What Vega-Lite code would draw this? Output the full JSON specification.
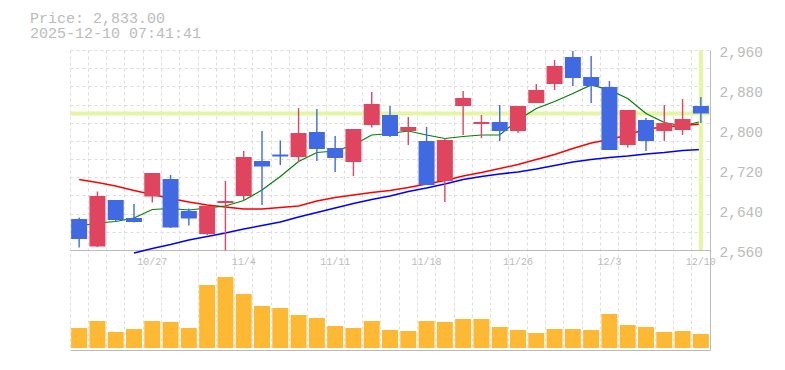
{
  "$schema": "https://vega.github.io/schema/vega-lite/v6.json",
  "width": 640,
  "height": 300,
  "autosize": {"type": "none"},
  "padding": {"left": 70, "top": 50, "right": 75, "bottom": 20},
  "background": "white",
  "config": {"view": {"stroke": null}, "font": "Liberation Mono"},
  "title": {"text": ["Price: 2,833.00", "2025-12-10 07:41:41"], "anchor": "start", "frame": "group", "dx": -40, "offset": 3, "font": "Liberation Mono", "fontSize": 15, "fontWeight": "normal", "color": "#bbbbbb", "lineHeight": 15},
  "datasets": {
    "ohlc": [
      {"date": "10/21", "o": 2622, "h": 2625, "l": 2565, "c": 2582, "v": 200000, "m5": 2608, "m25": 2701, "m75": null},
      {"date": "10/22", "o": 2567, "h": 2677, "l": 2566, "c": 2668, "v": 270000, "m5": 2614, "m25": 2695, "m75": null},
      {"date": "10/23", "o": 2660, "h": 2660, "l": 2617, "c": 2620, "v": 160000, "m5": 2617, "m25": 2688, "m75": null},
      {"date": "10/24", "o": 2624, "h": 2652, "l": 2615, "c": 2616, "v": 190000, "m5": 2624, "m25": 2679, "m75": 2554},
      {"date": "10/27", "o": 2667, "h": 2714, "l": 2655, "c": 2714, "v": 270000, "m5": 2641, "m25": 2671, "m75": 2563},
      {"date": "10/28", "o": 2702, "h": 2710, "l": 2604, "c": 2605, "v": 260000, "m5": 2643, "m25": 2663, "m75": 2571},
      {"date": "10/29", "o": 2638, "h": 2643, "l": 2609, "c": 2623, "v": 200000, "m5": 2640, "m25": 2656, "m75": 2580},
      {"date": "10/30", "o": 2592, "h": 2648, "l": 2590, "c": 2648, "v": 630000, "m5": 2644, "m25": 2650, "m75": 2587},
      {"date": "10/31", "o": 2654, "h": 2698, "l": 2559, "c": 2658, "v": 710000, "m5": 2648, "m25": 2646, "m75": 2594},
      {"date": "11/4", "o": 2668, "h": 2758, "l": 2659, "c": 2746, "v": 540000, "m5": 2659, "m25": 2642, "m75": 2602},
      {"date": "11/5", "o": 2738, "h": 2798, "l": 2650, "c": 2727, "v": 420000, "m5": 2680, "m25": 2642, "m75": 2609},
      {"date": "11/6", "o": 2751, "h": 2779, "l": 2730, "c": 2747, "v": 400000, "m5": 2707, "m25": 2645, "m75": 2616},
      {"date": "11/7", "o": 2746, "h": 2844, "l": 2736, "c": 2794, "v": 330000, "m5": 2737, "m25": 2648, "m75": 2626},
      {"date": "11/10", "o": 2796, "h": 2842, "l": 2738, "c": 2762, "v": 300000, "m5": 2755, "m25": 2658, "m75": 2635},
      {"date": "11/11", "o": 2764, "h": 2788, "l": 2716, "c": 2744, "v": 220000, "m5": 2758, "m25": 2665, "m75": 2644},
      {"date": "11/12", "o": 2736, "h": 2802, "l": 2708, "c": 2802, "v": 200000, "m5": 2770, "m25": 2670, "m75": 2653},
      {"date": "11/13", "o": 2810, "h": 2876, "l": 2805, "c": 2852, "v": 270000, "m5": 2790, "m25": 2675, "m75": 2661},
      {"date": "11/14", "o": 2830, "h": 2848, "l": 2786, "c": 2788, "v": 180000, "m5": 2793, "m25": 2679, "m75": 2668},
      {"date": "11/17", "o": 2798, "h": 2826, "l": 2770, "c": 2806, "v": 170000, "m5": 2798, "m25": 2685, "m75": 2677},
      {"date": "11/18", "o": 2778, "h": 2806, "l": 2690, "c": 2690, "v": 270000, "m5": 2790, "m25": 2692, "m75": 2684},
      {"date": "11/19", "o": 2698, "h": 2784, "l": 2656, "c": 2780, "v": 260000, "m5": 2783, "m25": 2699, "m75": 2692},
      {"date": "11/20", "o": 2848, "h": 2878, "l": 2790, "c": 2864, "v": 290000, "m5": 2787, "m25": 2708, "m75": 2701},
      {"date": "11/21", "o": 2812, "h": 2830, "l": 2784, "c": 2816, "v": 290000, "m5": 2790, "m25": 2715, "m75": 2707},
      {"date": "11/25", "o": 2816, "h": 2850, "l": 2778, "c": 2798, "v": 210000, "m5": 2790, "m25": 2723, "m75": 2712},
      {"date": "11/26", "o": 2798, "h": 2848, "l": 2794, "c": 2848, "v": 180000, "m5": 2820, "m25": 2731, "m75": 2716},
      {"date": "11/27", "o": 2854, "h": 2892, "l": 2854, "c": 2880, "v": 150000, "m5": 2843, "m25": 2741, "m75": 2722},
      {"date": "11/28", "o": 2892, "h": 2940, "l": 2880, "c": 2928, "v": 190000, "m5": 2857, "m25": 2751, "m75": 2729},
      {"date": "12/1", "o": 2946, "h": 2958, "l": 2888, "c": 2904, "v": 190000, "m5": 2873, "m25": 2763, "m75": 2736},
      {"date": "12/2", "o": 2906, "h": 2948, "l": 2854, "c": 2888, "v": 180000, "m5": 2890, "m25": 2774, "m75": 2741},
      {"date": "12/3", "o": 2886, "h": 2898, "l": 2760, "c": 2760, "v": 340000, "m5": 2880, "m25": 2781, "m75": 2745},
      {"date": "12/4", "o": 2770, "h": 2840, "l": 2765, "c": 2840, "v": 230000, "m5": 2863, "m25": 2790, "m75": 2748},
      {"date": "12/5", "o": 2820, "h": 2824, "l": 2758, "c": 2778, "v": 210000, "m5": 2833, "m25": 2802, "m75": 2752},
      {"date": "12/8", "o": 2798, "h": 2850, "l": 2778, "c": 2814, "v": 160000, "m5": 2815, "m25": 2806, "m75": 2755},
      {"date": "12/9", "o": 2800, "h": 2862, "l": 2790, "c": 2822, "v": 170000, "m5": 2808, "m25": 2809, "m75": 2759},
      {"date": "12/10", "o": 2848, "h": 2866, "l": 2814, "c": 2833, "v": 140000, "m5": 2817, "m25": 2812, "m75": 2761}
    ],
    "last": [{"p": 2833}]
  },
  "data": {"name": "ohlc"},
  "layer": [
    {
      "layer": [
        {
          "data": {"name": "last"},
          "mark": {"type": "rule", "color": "#e4f5a4", "strokeWidth": 4},
          "encoding": {
            "y": {"field": "p", "type": "quantitative", "scale": {"domain": [2360, 2960], "nice": false, "zero": false},
              "axis": {"orient": "left", "values": [2596.36, 2632.73, 2669.09, 2705.45, 2741.82, 2778.18, 2814.55, 2850.91, 2887.27, 2923.64, 2960], "grid": true, "gridDash": [3, 3], "gridColor": "#dddddd", "gridWidth": 1, "labels": false, "ticks": false, "domain": false, "title": null}}
          }
        },
        {
          "mark": {"type": "line", "color": "#0000ff", "strokeWidth": 1.5, "clip": false},
          "encoding": {
            "x": {"field": "date", "type": "ordinal", "sort": null, "scale": {"type": "band", "paddingInner": 0, "paddingOuter": 0}},
            "y": {"field": "m75", "type": "quantitative", "scale": {"domain": [2360, 2960], "nice": false, "zero": false}, "axis": null}
          }
        },
        {
          "mark": {"type": "line", "color": "#ff0000", "strokeWidth": 1.5},
          "encoding": {
            "x": {"field": "date", "type": "ordinal", "sort": null, "scale": {"type": "band", "paddingInner": 0, "paddingOuter": 0}},
            "y": {"field": "m25", "type": "quantitative", "scale": {"domain": [2360, 2960], "nice": false, "zero": false}, "axis": null}
          }
        },
        {
          "mark": {"type": "line", "color": "#008000", "strokeWidth": 1.2},
          "encoding": {
            "x": {"field": "date", "type": "ordinal", "sort": null, "scale": {"type": "band", "paddingInner": 0, "paddingOuter": 0}},
            "y": {"field": "m5", "type": "quantitative", "scale": {"domain": [2360, 2960], "nice": false, "zero": false}, "axis": null}
          }
        },
        {
          "transform": [{"filter": "datum.date == '12/10'"}],
          "mark": {"type": "rule", "color": "#e4f5a4", "strokeWidth": 4},
          "encoding": {
            "x": {"field": "date", "type": "ordinal", "sort": null, "scale": {"type": "band", "paddingInner": 0, "paddingOuter": 0}},
            "y": {"datum": 2960, "type": "quantitative", "scale": {"domain": [2360, 2960], "nice": false, "zero": false}, "axis": null},
            "y2": {"datum": 2560}
          }
        },
        {
          "mark": {"type": "rule", "strokeWidth": 1.4},
          "encoding": {
            "x": {"field": "date", "type": "ordinal", "sort": null, "scale": {"type": "band", "paddingInner": 0, "paddingOuter": 0}},
            "y": {"field": "l", "type": "quantitative", "scale": {"domain": [2360, 2960], "nice": false, "zero": false}, "axis": null},
            "y2": {"field": "h"},
            "color": {"condition": {"test": "datum.c >= datum.o", "value": "#e04560"}, "value": "#4169e1"}
          }
        },
        {
          "mark": {"type": "bar", "width": {"band": 0.875}},
          "encoding": {
            "x": {"field": "date", "type": "ordinal", "sort": null, "scale": {"type": "band", "paddingInner": 0, "paddingOuter": 0},
              "axis": {"orient": "bottom", "bandPosition": 0, "grid": true, "gridDash": [3, 3], "gridColor": "#dddddd", "gridWidth": 1, "labels": false, "ticks": false, "domain": true, "domainColor": "#bbbbbb", "domainWidth": 1, "title": null}},
            "y": {"field": "o", "type": "quantitative", "scale": {"domain": [2360, 2960], "nice": false, "zero": false},
              "axis": {"orient": "right", "values": [2560, 2640, 2720, 2800, 2880, 2960], "format": ",d", "grid": false, "ticks": false, "tickSize": 0, "domain": true, "domainColor": "#bbbbbb", "domainWidth": 1, "labelPadding": 9, "labelFont": "Liberation Mono", "labelFontSize": 14.5, "labelColor": "#bbbbbb", "labelOffset": 2, "labelFlush": false, "labelBound": false, "labelOverlap": false, "title": null}},
            "y2": {"field": "c"},
            "color": {"condition": {"test": "datum.c >= datum.o", "value": "#e04560"}, "value": "#4169e1"}
          }
        }
      ],
      "resolve": {"axis": {"y": "independent"}}
    },
    {
      "mark": {"type": "bar", "color": "#fdb933", "width": {"band": 0.875}},
      "encoding": {
        "x": {"field": "date", "type": "ordinal", "sort": null, "scale": {"type": "band", "paddingInner": 0, "paddingOuter": 0},
          "axis": {"orient": "bottom", "offset": -100, "values": ["10/27", "11/4", "11/11", "11/18", "11/26", "12/3", "12/10"], "grid": false, "ticks": false, "tickSize": 0, "labelPadding": 6, "labelFont": "Liberation Mono", "labelFontSize": 10, "labelColor": "#bbbbbb", "labelAngle": 0, "labelFlush": false, "labelOverlap": false, "labelBound": false, "domain": true, "domainColor": "#bbbbbb", "domainWidth": 1, "title": null}},
        "y": {"field": "v", "type": "quantitative", "scale": {"domain": [-20000, 2980000], "nice": false, "zero": false}, "axis": null},
        "y2": {"datum": 0}
      }
    }
  ],
  "resolve": {"scale": {"y": "independent"}, "axis": {"x": "independent"}}
}
